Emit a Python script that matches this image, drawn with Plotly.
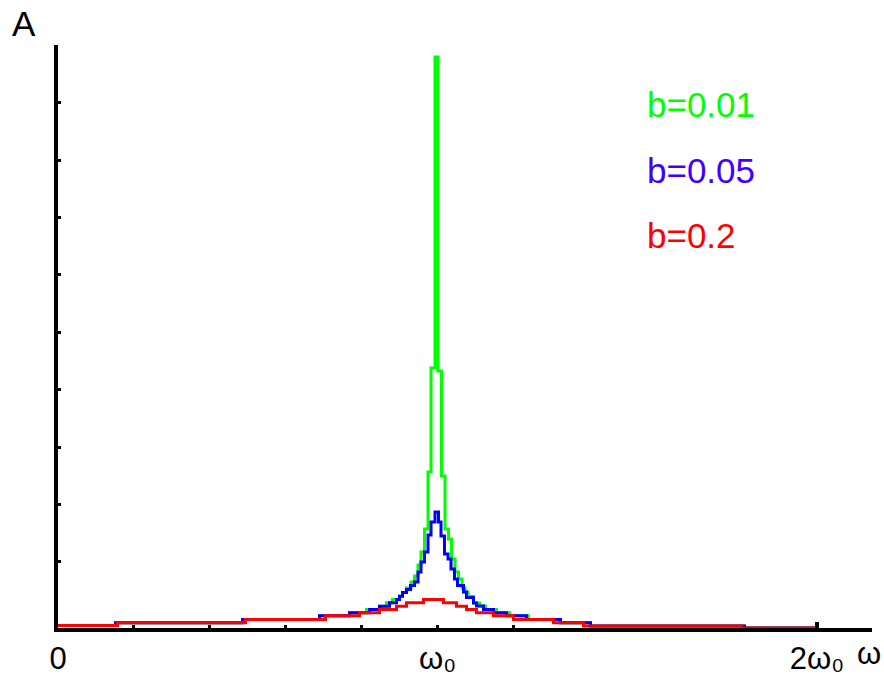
import plotly.graph_objects as go

# frequency in units of omega_0, amplitude in arbitrary units (step samples)
omega_b001 = [0, 0.1515, 0.4862, 0.6891, 0.7681, 0.8129, 0.8472, 0.8656, 0.8814, 0.8999, 0.9078,
              0.9183, 0.9302, 0.9394, 0.9486, 0.9565, 0.9657, 0.9750, 0.9829, 0.9934,
              1.0013, 1.0105, 1.0198, 1.0290, 1.0369, 1.0461, 1.0553, 1.0646, 1.0725, 1.0804,
              1.0949, 1.1107, 1.1265, 1.1555, 1.1897, 1.2398, 1.3241, 1.4032, 1.8090, 2.0]
amp_b001 = [0.044, 0.091, 0.148, 0.213, 0.265, 0.322, 0.380, 0.439, 0.497, 0.554, 0.619,
            0.697, 0.801, 0.906, 1.098, 1.324, 1.725, 2.718, 4.530, 9.948,
            4.477, 2.648, 1.725, 1.551, 1.202, 0.976, 0.854, 0.697, 0.627, 0.549,
            0.436, 0.383, 0.322, 0.265, 0.213, 0.148, 0.091, 0.035, 0.0, 0.0]

omega_b005 = [0, 0.1515, 0.4862, 0.6891, 0.7681, 0.8208, 0.8472, 0.8735, 0.8920, 0.8999, 0.9078,
              0.9183, 0.9289, 0.9394, 0.9486, 0.9565, 0.9657, 0.9750, 0.9829, 0.9934,
              1.0026, 1.0092, 1.0184, 1.0277, 1.0356, 1.0448, 1.0527, 1.0685, 1.0764, 1.0949,
              1.1028, 1.1212, 1.1476, 1.1818, 1.2345, 1.3241, 1.4032, 1.8090, 2.0]
amp_b005 = [0.044, 0.091, 0.148, 0.213, 0.265, 0.322, 0.380, 0.439, 0.497, 0.554, 0.619,
            0.671, 0.740, 0.801, 0.976, 1.150, 1.324, 1.620, 1.847, 2.021,
            1.847, 1.603, 1.289, 1.202, 1.028, 0.854, 0.740, 0.627, 0.531, 0.436,
            0.383, 0.322, 0.265, 0.213, 0.148, 0.091, 0.035, 0.0, 0.0]

omega_b02 = [0, 0.1568, 0.4941, 0.7049, 0.7945, 0.8472, 0.8920, 0.9183, 0.9631, 1.0158,
             1.0501, 1.0764, 1.1028, 1.1476, 1.2003, 1.3057, 1.3847, 1.8011, 2.0]
amp_b02 = [0.044, 0.091, 0.148, 0.213, 0.265, 0.322, 0.380, 0.439, 0.497, 0.439,
           0.380, 0.322, 0.265, 0.213, 0.148, 0.091, 0.035, 0.0, 0.0]

series_labels = ["b=0.01", "b=0.05", "b=0.2"]
x_tick_vals = [0, 1.0, 2.0]
x_tick_text = ["0", "ω₀", "2ω₀"]
x_minor_vals = [0.2, 0.4, 0.6, 0.8, 1.2]
y_tick_vals = [1.15, 2.15, 3.15, 4.15, 5.15, 6.15, 7.15, 8.15, 9.15]

FONT = "Liberation Sans, Arial, sans-serif"
FS = 35
FS_TICK = 31

fig = go.Figure()
for xs, ys, col in [(omega_b001, amp_b001, "#00FF00"),
                    (omega_b005, amp_b005, "#0000FF"),
                    (omega_b02, amp_b02, "#FF0000")]:
    fig.add_trace(go.Scatter(x=xs, y=ys, mode="lines",
                             line=dict(color=col, width=3, shape="hv"),
                             showlegend=False, hoverinfo="skip"))

L, R, T, B = 58, 12, 45, 50
W, H = 884, 678
pw, ph = W - L - R, H - T - B


def px(xp):
    return (xp - L) / pw


def py(yp):
    return (H - B - yp) / ph


fig.update_layout(
    width=W, height=H,
    margin=dict(l=L, r=R, t=T, b=B, pad=0, autoexpand=False),
    paper_bgcolor="white", plot_bgcolor="white",
    xaxis=dict(range=[0, pw / 379.5], showgrid=False, zeroline=False, automargin=False,
               showline=True, linecolor="black", linewidth=3.5,
               ticks="inside", ticklen=3.5, tickwidth=3, tickcolor="black",
               tickmode="array", tickvals=x_tick_vals, ticktext=x_tick_text,
               minor=dict(tickmode="array", tickvals=x_minor_vals, ticks="inside",
                          ticklen=3.5, tickwidth=3, tickcolor="black", showgrid=False),
               tickfont=dict(family=FONT, size=FS_TICK, color="black"),
               ticklabelstandoff=0, layer="below traces"),
    yaxis=dict(range=[0, ph / 57.4], showgrid=False, zeroline=False, automargin=False,
               showline=True, linecolor="black", linewidth=3.5,
               ticks="inside", ticklen=3.5, tickwidth=3, tickcolor="black",
               tickmode="array", tickvals=y_tick_vals, showticklabels=False,
               layer="below traces"),
    shapes=[dict(type="line", xref="x", yref="paper", x0=2.0, x1=2.0,
                 y0=0, y1=6 / ph, line=dict(color="black", width=4))],
)

label_colors = ["#00FF00", "#4000FF", "#FF0000"]
label_tops = [83, 149, 214]
for txt, col, top in zip(series_labels, label_colors, label_tops):
    fig.add_annotation(text=txt, xref="paper", yref="paper", x=px(645), y=py(top),
                       xanchor="left", yanchor="top", showarrow=False,
                       font=dict(family=FONT, size=FS, color=col))

fig.add_annotation(text="A", xref="paper", yref="paper", x=px(10), y=py(2),
                   xanchor="left", yanchor="top", showarrow=False,
                   font=dict(family=FONT, size=FS, color="black"))
fig.add_annotation(text="ω", xref="paper", yref="paper", x=px(855), y=py(634),
                   xanchor="left", yanchor="top", showarrow=False,
                   font=dict(family=FONT, size=FS_TICK, color="black"))

fig.write_html("out.html", config={"displayModeBar": False},
               post_script="document.body.style.margin='0';")
